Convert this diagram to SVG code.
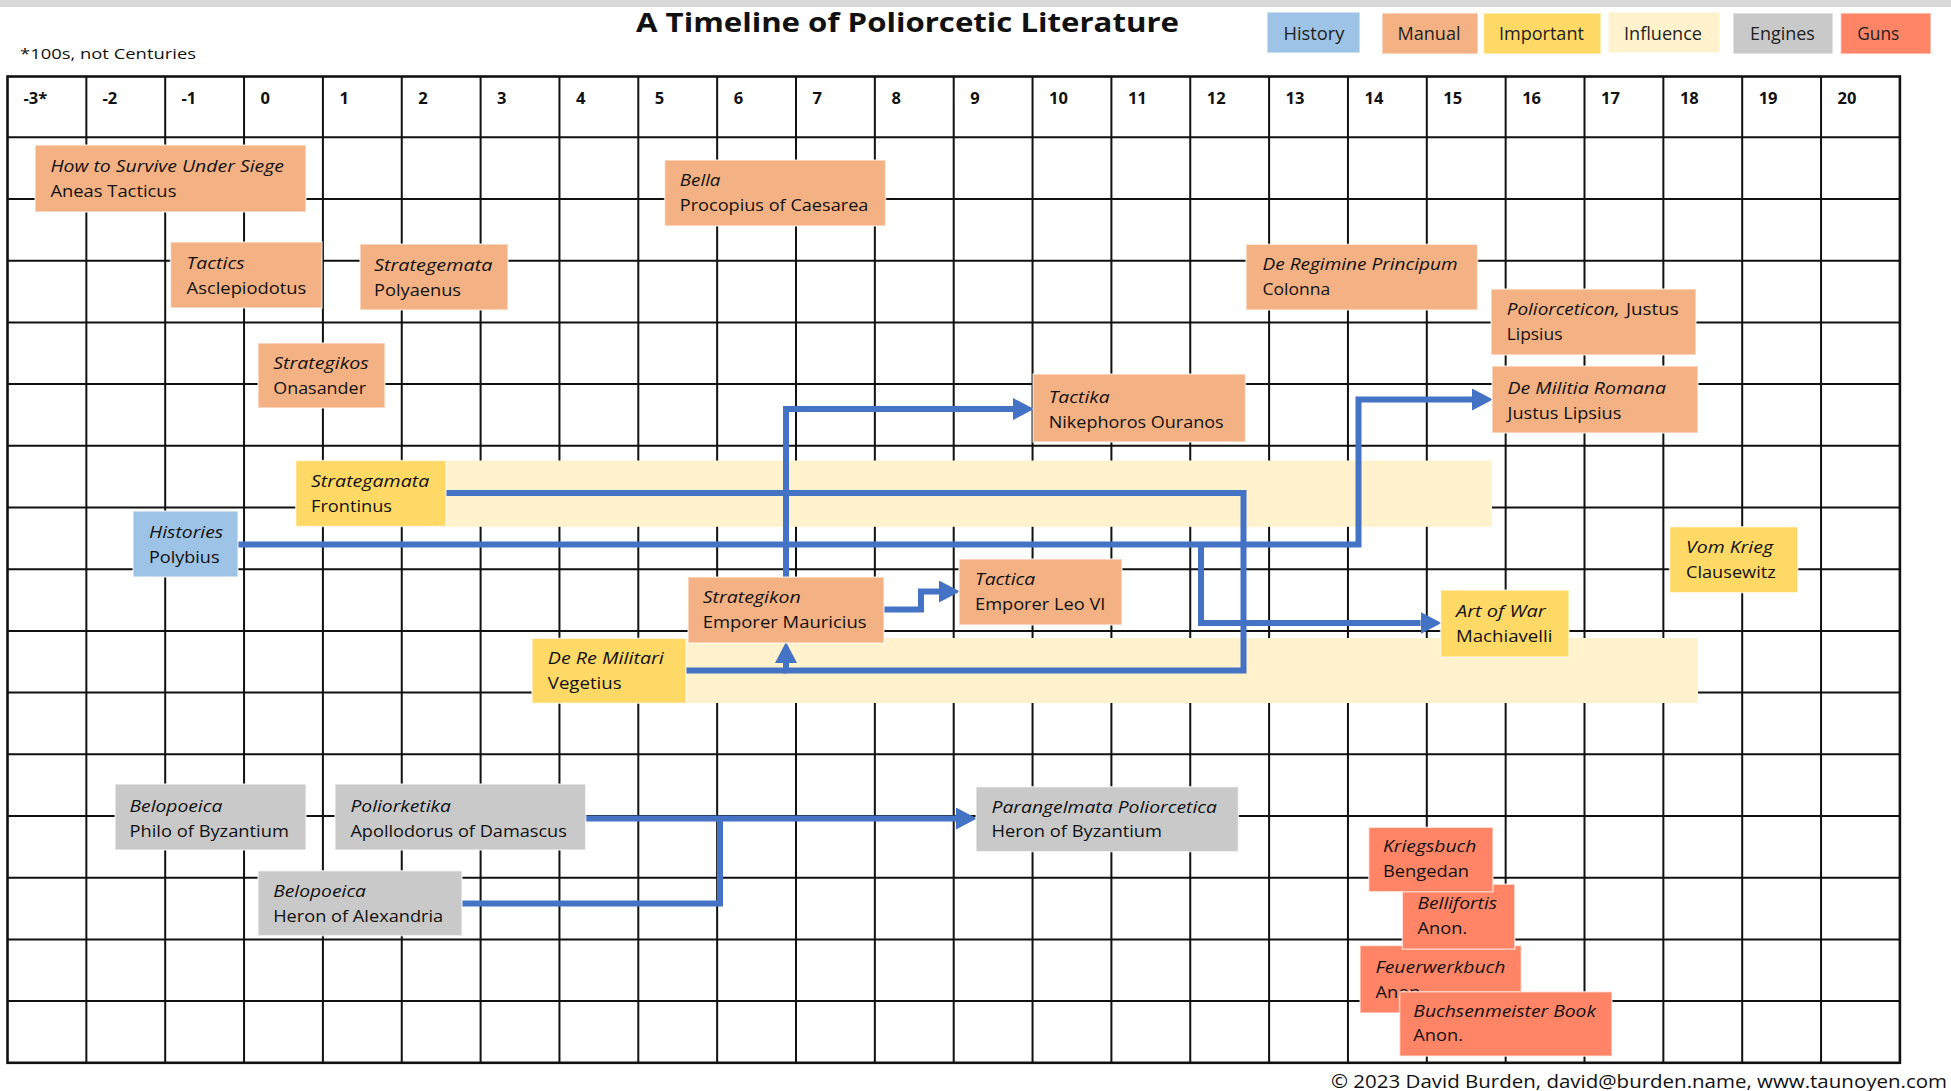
<svg xmlns="http://www.w3.org/2000/svg" width="1951" height="1091" viewBox="0 0 1951 1091">
<style>
  text { font-family: "Open Sans", "Liberation Sans", sans-serif; fill: #111; }
  .t { font-size: 17px; }
  .i { font-style: italic; }
  .hd { font-size: 16.5px; font-weight: bold; }
  .lg { font-size: 18px; fill: #222; }
  .ttl { font-size: 27px; font-weight: bold; }
  .box { stroke: #ffffff; stroke-opacity: 0.6; stroke-width: 1.5; }
  .man { fill: #F4B183; }
  .imp { fill: #FFD966; }
  .inf { fill: #FFF2CC; }
  .his { fill: #9DC3E6; }
  .eng { fill: #C9C9C9; }
  .gun { fill: #FF8566; }
  .grid { stroke: #111; stroke-width: 2; fill: none; }
  .con { stroke: #4472C4; stroke-width: 6; fill: none; stroke-linejoin: miter; }
</style>
<defs>
  <marker id="ah" markerUnits="userSpaceOnUse" markerWidth="21" markerHeight="22" viewBox="0 0 20 21" refX="0" refY="10.5" orient="auto">
    <path d="M0,0 L20,10.5 L0,21 Z" fill="#4472C4"/>
  </marker>
</defs>
<rect x="0" y="0" width="1951" height="1091" fill="#ffffff"/>
<rect x="0" y="0" width="1951" height="7" fill="#d9d9d9"/>

<text class="ttl" x="636" y="32" textLength="543" lengthAdjust="spacingAndGlyphs">A Timeline of Poliorcetic Literature</text>
<text x="20" y="59" style="font-size:14px" textLength="176" lengthAdjust="spacingAndGlyphs">*100s, not Centuries</text>

<g id="legend">
  <g id="legend-history"><rect class="box his" x="1267" y="12" width="93" height="41"/><text class="lg" x="1314" y="39.5" text-anchor="middle" textLength="61" lengthAdjust="spacingAndGlyphs">History</text></g>
  <g id="legend-manual"><rect class="box man" x="1382" y="13" width="96" height="41"/><text class="lg" x="1429" y="40" text-anchor="middle" textLength="63" lengthAdjust="spacingAndGlyphs">Manual</text></g>
  <g id="legend-important"><rect class="box imp" x="1483.5" y="13" width="117.5" height="41"/><text class="lg" x="1541.4" y="40" text-anchor="middle" textLength="85" lengthAdjust="spacingAndGlyphs">Important</text></g>
  <g id="legend-influence"><rect class="box inf" x="1608" y="12" width="112" height="41"/><text class="lg" x="1663" y="39.5" text-anchor="middle" textLength="78" lengthAdjust="spacingAndGlyphs">Influence</text></g>
  <g id="legend-engines"><rect class="box eng" x="1733" y="13" width="100" height="41"/><text class="lg" x="1782.4" y="40" text-anchor="middle" textLength="65" lengthAdjust="spacingAndGlyphs">Engines</text></g>
  <g id="legend-guns"><rect class="box gun" x="1840.6" y="13" width="90.4" height="41"/><text class="lg" x="1878.3" y="40" text-anchor="middle" textLength="42" lengthAdjust="spacingAndGlyphs">Guns</text></g>
</g>

<g id="grid">
  <path class="grid" d="M86.35,76.5V1062.8 M165.2,76.5V1062.8 M244.05,76.5V1062.8 M322.9,76.5V1062.8 M401.75,76.5V1062.8 M480.6,76.5V1062.8 M559.45,76.5V1062.8 M638.3,76.5V1062.8 M717.15,76.5V1062.8 M796,76.5V1062.8 M874.85,76.5V1062.8 M953.7,76.5V1062.8 M1032.55,76.5V1062.8 M1111.4,76.5V1062.8 M1190.25,76.5V1062.8 M1269.1,76.5V1062.8 M1347.95,76.5V1062.8 M1426.8,76.5V1062.8 M1505.65,76.5V1062.8 M1584.5,76.5V1062.8 M1663.35,76.5V1062.8 M1742.2,76.5V1062.8 M1821.05,76.5V1062.8
  M7.5,137.3H1899.9 M7.5,199H1899.9 M7.5,260.7H1899.9 M7.5,322.4H1899.9 M7.5,384.1H1899.9 M7.5,445.8H1899.9 M7.5,507.5H1899.9 M7.5,569.2H1899.9 M7.5,630.9H1899.9 M7.5,692.6H1899.9 M7.5,754.3H1899.9 M7.5,816H1899.9 M7.5,877.7H1899.9 M7.5,939.4H1899.9 M7.5,1001.1H1899.9"/>
  <rect x="7.5" y="76.5" width="1892.4" height="986.3" fill="none" stroke="#111" stroke-width="2.6"/>
  <g class="hd">
    <text x="23.5" y="104">-3*</text>
    <text x="102.5" y="104">-2</text>
    <text x="181.5" y="104">-1</text>
    <text x="260.5" y="104">0</text>
    <text x="339.5" y="104">1</text>
    <text x="418.3" y="104">2</text>
    <text x="497.1" y="104">3</text>
    <text x="576" y="104">4</text>
    <text x="654.8" y="104">5</text>
    <text x="733.7" y="104">6</text>
    <text x="812.5" y="104">7</text>
    <text x="891.4" y="104">8</text>
    <text x="970.2" y="104">9</text>
    <text x="1049" y="104">10</text>
    <text x="1127.9" y="104">11</text>
    <text x="1206.8" y="104">12</text>
    <text x="1285.6" y="104">13</text>
    <text x="1364.5" y="104">14</text>
    <text x="1443.3" y="104">15</text>
    <text x="1522.2" y="104">16</text>
    <text x="1601" y="104">17</text>
    <text x="1679.9" y="104">18</text>
    <text x="1758.7" y="104">19</text>
    <text x="1837.6" y="104">20</text>
  </g>
</g>

<g id="influence-bands">
  <rect id="band-frontinus" class="inf" x="446" y="460.5" width="1046" height="66.3"/>
  <rect id="band-vegetius" class="inf" x="686" y="638" width="1012" height="65"/>
</g>

<g id="connectors">
  <path class="con" d="M446,493 H1243.5 V670.5 H786 V663" marker-end="url(#ah)"/>
  <path class="con" d="M686,670.5 H786"/>
  <path class="con" d="M786,577 V409 H1013" marker-end="url(#ah)"/>
  <path class="con" d="M884,609.5 H921 V591.5 H939" marker-end="url(#ah)"/>
  <path class="con" d="M238,544.5 H1358.5 V399.5 H1472" marker-end="url(#ah)"/>
  <path class="con" d="M1201,544.5 V623 H1420.6" marker-end="url(#ah)"/>
  <path class="con" d="M585.7,818.5 H956" marker-end="url(#ah)"/>
  <path class="con" d="M462,903.5 H720 V818.5"/>
</g>

<g id="node-how-to-survive"><rect class="box man" x="35" y="145" width="271" height="67"/>
  <text class="t i" x="50.4" y="172" textLength="233.6" lengthAdjust="spacingAndGlyphs">How to Survive Under Siege</text>
  <text class="t" x="50.4" y="197" textLength="126" lengthAdjust="spacingAndGlyphs">Aneas Tacticus</text></g>
<g id="node-bella"><rect class="box man" x="664.6" y="160" width="221" height="66"/>
  <text class="t i" x="679.8" y="186" textLength="40.7" lengthAdjust="spacingAndGlyphs">Bella</text>
  <text class="t" x="679.8" y="211" textLength="188.6" lengthAdjust="spacingAndGlyphs">Procopius of Caesarea</text></g>
<g id="node-tactics"><rect class="box man" x="170.5" y="242" width="151.5" height="66"/>
  <text class="t i" x="186.6" y="268.5" textLength="58" lengthAdjust="spacingAndGlyphs">Tactics</text>
  <text class="t" x="186.6" y="293.5" textLength="119.7" lengthAdjust="spacingAndGlyphs">Asclepiodotus</text></g>
<g id="node-strategemata-polyaenus"><rect class="box man" x="360" y="244" width="148" height="66"/>
  <text class="t i" x="374" y="270.5" textLength="118.4" lengthAdjust="spacingAndGlyphs">Strategemata</text>
  <text class="t" x="374" y="295.5" textLength="87" lengthAdjust="spacingAndGlyphs">Polyaenus</text></g>
<g id="node-strategikos"><rect class="box man" x="258" y="343" width="127" height="65"/>
  <text class="t i" x="273.2" y="369" textLength="95.5" lengthAdjust="spacingAndGlyphs">Strategikos</text>
  <text class="t" x="273.2" y="394" textLength="92.8" lengthAdjust="spacingAndGlyphs">Onasander</text></g>
<g id="node-de-regimine"><rect class="box man" x="1246" y="244.3" width="231.6" height="65.7"/>
  <text class="t i" x="1262.5" y="270" textLength="195" lengthAdjust="spacingAndGlyphs">De Regimine Principum</text>
  <text class="t" x="1262.5" y="295" textLength="67.7" lengthAdjust="spacingAndGlyphs">Colonna</text></g>
<g id="node-poliorceticon"><rect class="box man" x="1491" y="289" width="205" height="66"/>
  <text class="t i" x="1506.7" y="315" textLength="113" lengthAdjust="spacingAndGlyphs">Poliorceticon,</text>
  <text class="t" x="1626" y="315" textLength="52.7" lengthAdjust="spacingAndGlyphs">Justus</text>
  <text class="t" x="1506.7" y="340" textLength="55.8" lengthAdjust="spacingAndGlyphs">Lipsius</text></g>
<g id="node-de-militia-romana"><rect class="box man" x="1492" y="366" width="206" height="67"/>
  <text class="t i" x="1507.6" y="394" textLength="158.5" lengthAdjust="spacingAndGlyphs">De Militia Romana</text>
  <text class="t" x="1507.6" y="419" textLength="113.8" lengthAdjust="spacingAndGlyphs">Justus Lipsius</text></g>
<g id="node-tactika"><rect class="box man" x="1033" y="374" width="212.5" height="68"/>
  <text class="t i" x="1048.7" y="403" textLength="61" lengthAdjust="spacingAndGlyphs">Tactika</text>
  <text class="t" x="1048.7" y="428" textLength="175" lengthAdjust="spacingAndGlyphs">Nikephoros Ouranos</text></g>
<g id="node-frontinus"><rect class="box imp" x="295.7" y="460.5" width="150.3" height="66"/>
  <text class="t i" x="311" y="487" textLength="118.3" lengthAdjust="spacingAndGlyphs">Strategamata</text>
  <text class="t" x="311" y="512" textLength="81" lengthAdjust="spacingAndGlyphs">Frontinus</text></g>
<g id="node-histories"><rect class="box his" x="133" y="511" width="105" height="66"/>
  <text class="t i" x="149" y="538" textLength="74.2" lengthAdjust="spacingAndGlyphs">Histories</text>
  <text class="t" x="149" y="563" textLength="70.5" lengthAdjust="spacingAndGlyphs">Polybius</text></g>
<g id="node-vom-krieg"><rect class="box imp" x="1669.6" y="526.7" width="128.2" height="66"/>
  <text class="t i" x="1686" y="553" textLength="87" lengthAdjust="spacingAndGlyphs">Vom Krieg</text>
  <text class="t" x="1686" y="578" textLength="89.7" lengthAdjust="spacingAndGlyphs">Clausewitz</text></g>
<g id="node-tactica"><rect class="box man" x="959" y="559" width="163" height="66"/>
  <text class="t i" x="975" y="585" textLength="60.3" lengthAdjust="spacingAndGlyphs">Tactica</text>
  <text class="t" x="975" y="610" textLength="130.4" lengthAdjust="spacingAndGlyphs">Emporer Leo VI</text></g>
<g id="node-strategikon"><rect class="box man" x="688" y="577" width="196" height="66"/>
  <text class="t i" x="702.7" y="603" textLength="98.2" lengthAdjust="spacingAndGlyphs">Strategikon</text>
  <text class="t" x="702.7" y="628" textLength="163.8" lengthAdjust="spacingAndGlyphs">Emporer Mauricius</text></g>
<g id="node-art-of-war"><rect class="box imp" x="1440.6" y="590" width="128.4" height="67"/>
  <text class="t i" x="1456" y="616.7" textLength="89.7" lengthAdjust="spacingAndGlyphs">Art of War</text>
  <text class="t" x="1456" y="641.7" textLength="96.4" lengthAdjust="spacingAndGlyphs">Machiavelli</text></g>
<g id="node-de-re-militari"><rect class="box imp" x="532" y="638.3" width="154" height="65"/>
  <text class="t i" x="547.8" y="664" textLength="116" lengthAdjust="spacingAndGlyphs">De Re Militari</text>
  <text class="t" x="547.8" y="689" textLength="73.8" lengthAdjust="spacingAndGlyphs">Vegetius</text></g>
<g id="node-belopoeica-philo"><rect class="box eng" x="115" y="784" width="191" height="66"/>
  <text class="t i" x="129.5" y="811.5" textLength="92.8" lengthAdjust="spacingAndGlyphs">Belopoeica</text>
  <text class="t" x="129.5" y="836.5" textLength="159.4" lengthAdjust="spacingAndGlyphs">Philo of Byzantium</text></g>
<g id="node-poliorketika"><rect class="box eng" x="335" y="784" width="250.7" height="66"/>
  <text class="t i" x="350.4" y="811.5" textLength="100.5" lengthAdjust="spacingAndGlyphs">Poliorketika</text>
  <text class="t" x="350.4" y="836.5" textLength="216.5" lengthAdjust="spacingAndGlyphs">Apollodorus of Damascus</text></g>
<g id="node-belopoeica-heron"><rect class="box eng" x="258" y="870.7" width="204" height="65"/>
  <text class="t i" x="273.2" y="896.7" textLength="92.8" lengthAdjust="spacingAndGlyphs">Belopoeica</text>
  <text class="t" x="273.2" y="921.7" textLength="170" lengthAdjust="spacingAndGlyphs">Heron of Alexandria</text></g>
<g id="node-parangelmata"><rect class="box eng" x="976" y="786.7" width="262.4" height="65"/>
  <text class="t i" x="991.5" y="812.7" textLength="225.5" lengthAdjust="spacingAndGlyphs">Parangelmata Poliorcetica</text>
  <text class="t" x="991.5" y="837.3" textLength="170.5" lengthAdjust="spacingAndGlyphs">Heron of Byzantium</text></g>
<g id="node-feuerwerkbuch"><rect class="box gun" x="1360" y="945.5" width="161.3" height="67.5"/>
  <text class="t i" x="1375.5" y="973.3" textLength="130" lengthAdjust="spacingAndGlyphs">Feuerwerkbuch</text>
  <text class="t" x="1375.5" y="998.3" textLength="49.8" lengthAdjust="spacingAndGlyphs">Anon.</text></g>
<g id="node-bellifortis"><rect class="box gun" x="1402.3" y="884.2" width="112.5" height="65"/>
  <text class="t i" x="1417.4" y="909.3" textLength="79.7" lengthAdjust="spacingAndGlyphs">Bellifortis</text>
  <text class="t" x="1417.4" y="934" textLength="49.8" lengthAdjust="spacingAndGlyphs">Anon.</text></g>
<g id="node-kriegsbuch"><rect class="box gun" x="1368.7" y="827.3" width="124.3" height="64.4"/>
  <text class="t i" x="1383" y="851.7" textLength="93.4" lengthAdjust="spacingAndGlyphs">Kriegsbuch</text>
  <text class="t" x="1383" y="876.7" textLength="86" lengthAdjust="spacingAndGlyphs">Bengedan</text></g>
<g id="node-buchsenmeister"><rect class="box gun" x="1399.6" y="991.7" width="212.4" height="64.5"/>
  <text class="t i" x="1413.3" y="1016.7" textLength="182.6" lengthAdjust="spacingAndGlyphs">Buchsenmeister Book</text>
  <text class="t" x="1413.3" y="1040.7" textLength="49.8" lengthAdjust="spacingAndGlyphs">Anon.</text></g>

<text x="1331" y="1088" style="font-size:19px" textLength="616" lengthAdjust="spacingAndGlyphs">© 2023 David Burden, david@burden.name, www.taunoyen.com</text>
</svg>
